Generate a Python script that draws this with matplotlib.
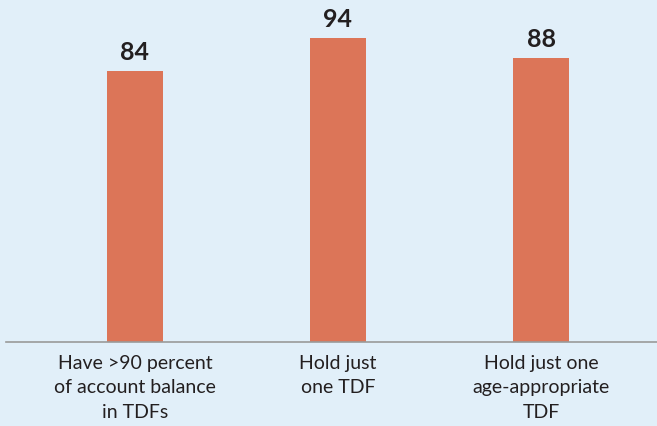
import numpy as np
import matplotlib.pyplot as plt

# Данные
categories = ['Have >90 percent\nof account balance\nin TDFs',
              'Hold just\none TDF',
              'Hold just one\nage-appropriate\nTDF']
values = [84, 94, 88]

bg = '#E1EFF9'
bar_color = '#DC7558'

plt.rcParams['font.family'] = ['Lato', 'DejaVu Sans']

fig = plt.figure(figsize=(6.57, 4.26), dpi=100, facecolor=bg)
ax = fig.add_axes([6 / 657, 84 / 426, 651 / 657, 342 / 426])
ax.set_facecolor(bg)

x = np.arange(len(values))
bars = ax.bar(x, values, width=0.276, color=bar_color, zorder=2)

# Подписи значений над столбцами
for xi, v in zip(x, values):
    ax.annotate(str(v), (xi, v), xytext=(0, 5), textcoords='offset points',
                ha='center', va='bottom', fontsize=18, fontweight='bold',
                color='#231F20')

ax.set_xlim(-0.635, 2.571)
ax.set_ylim(0, 105.9)
ax.set_xticks(x)
ax.set_xticklabels(categories, fontsize=14, color='#231F20', linespacing=1.56)
ax.tick_params(axis='x', length=0, pad=9)
ax.set_yticks([])

for side in ['top', 'right', 'left']:
    ax.spines[side].set_visible(False)
ax.spines['bottom'].set_color('#9A9A9A')
ax.spines['bottom'].set_linewidth(1.2)

fig.savefig('out.png', dpi=100, facecolor=bg)
